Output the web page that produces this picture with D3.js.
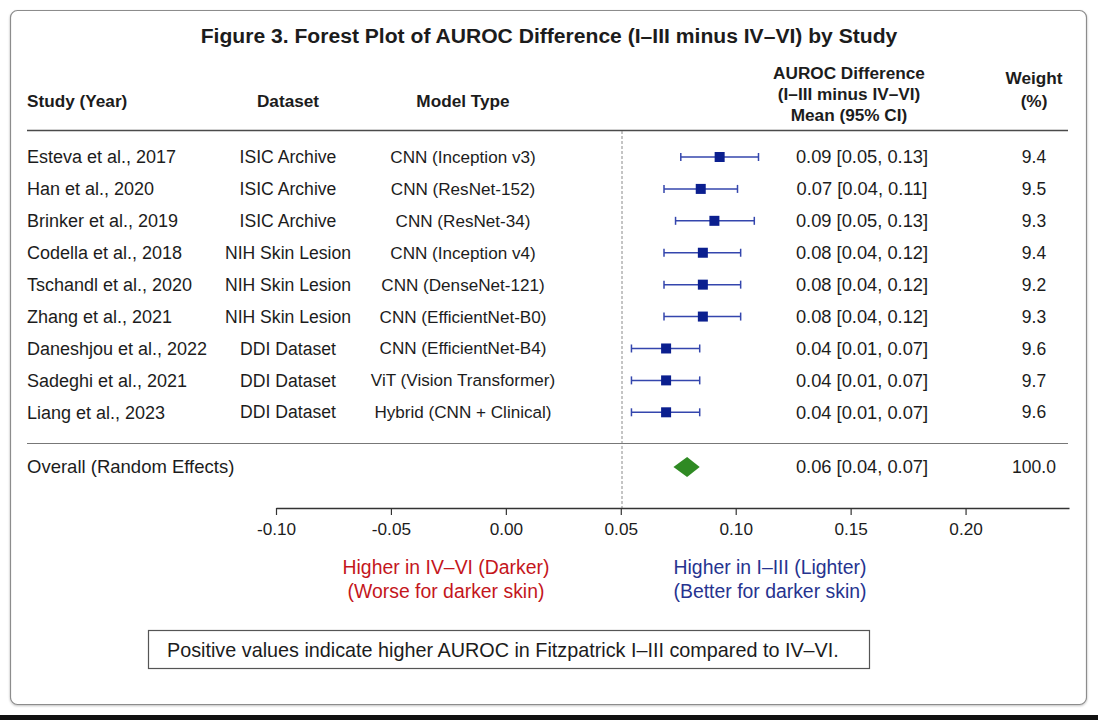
<!DOCTYPE html>
<html>
<head>
<meta charset="utf-8">
<script src="https://cdn.jsdelivr.net/npm/d3@7"></script>
<style>
  body { margin: 0; background: #ffffff; }
  svg { display: block; font-family: "Liberation Sans", Arial, sans-serif; }
</style>
</head>
<body>
<svg id="forest" width="1098" height="720"></svg>
<script>
// studies, top to bottom
const studies = ["Esteva et al., 2017", "Han et al., 2020", "Brinker et al., 2019",
    "Codella et al., 2018", "Tschandl et al., 2020", "Zhang et al., 2021",
    "Daneshjou et al., 2022", "Sadeghi et al., 2021", "Liang et al., 2023"];
const datasets = ["ISIC Archive", "ISIC Archive", "ISIC Archive",
    "NIH Skin Lesion", "NIH Skin Lesion", "NIH Skin Lesion",
    "DDI Dataset", "DDI Dataset", "DDI Dataset"];
const models = ["CNN (Inception v3)", "CNN (ResNet-152)", "CNN (ResNet-34)",
    "CNN (Inception v4)", "CNN (DenseNet-121)", "CNN (EfficientNet-B0)",
    "CNN (EfficientNet-B4)", "ViT (Vision Transformer)", "Hybrid (CNN + Clinical)"];

// plotted estimates
const means = [0.093, 0.075, 0.088, 0.077, 0.077, 0.077, 0.042, 0.042, 0.042];
const lower = [0.056, 0.040, 0.051, 0.040, 0.040, 0.040, 0.009, 0.009, 0.009];
const upper = [0.130, 0.110, 0.126, 0.113, 0.113, 0.113, 0.074, 0.074, 0.074];
// printed column
const ciText = ["0.09 [0.05, 0.13]", "0.07 [0.04, 0.11]", "0.09 [0.05, 0.13]",
    "0.08 [0.04, 0.12]", "0.08 [0.04, 0.12]", "0.08 [0.04, 0.12]",
    "0.04 [0.01, 0.07]", "0.04 [0.01, 0.07]", "0.04 [0.01, 0.07]"];
const weights = [9.4, 9.5, 9.3, 9.4, 9.2, 9.3, 9.6, 9.7, 9.6];

// pooled estimate
const overall = {mean: 0.062, lower: 0.049, upper: 0.074, text: "0.06 [0.04, 0.07]", weight: 100.0};

// axis as printed under the plot
const axisTicks = [-0.10, -0.05, 0.00, 0.05, 0.10, 0.15, 0.20];

const svg = d3.select("svg#forest");
const width = +svg.attr("width");
const height = +svg.attr("height");

const textColor = "#1c1c1c";
const markColor = "#0b1f8f";
const whiskerColor = "#3446ad";

// outer card
const defs = svg.append("defs");
const shadow = defs.append("filter").attr("id", "shadow")
    .attr("x", "-2%").attr("y", "-2%").attr("width", "104%").attr("height", "104%");
shadow.append("feDropShadow")
    .attr("dx", 0).attr("dy", 1).attr("stdDeviation", 1.2)
    .attr("flood-color", "#000").attr("flood-opacity", 0.25);

svg.append("rect")
    .attr("x", 10.5).attr("y", 10.5)
    .attr("width", 1076).attr("height", 694)
    .attr("rx", 7)
    .attr("fill", "#fff")
    .attr("stroke", "#8c8c8c")
    .attr("stroke-width", 1.2)
    .attr("filter", "url(#shadow)");

svg.append("rect")
    .attr("x", 0).attr("y", 715)
    .attr("width", width).attr("height", 5)
    .attr("fill", "#111");

// title
svg.append("text")
    .attr("x", 549).attr("y", 36)
    .attr("dy", "0.35em")
    .attr("text-anchor", "middle")
    .attr("font-size", 21.1)
    .attr("font-weight", "bold")
    .attr("fill", textColor)
    .text("Figure 3. Forest Plot of AUROC Difference (I\u2013III minus IV\u2013VI) by Study");

// column positions
const colStudy = 27, colDataset = 288, colModel = 463, colCI = 862, colWeight = 1034;
const left = 27, right = 1068;

// header
const header = svg.append("g")
    .attr("font-size", 17.2)
    .attr("font-weight", "bold")
    .attr("fill", textColor);

header.append("text").attr("x", colStudy).attr("y", 101).attr("dy", "0.35em")
    .text("Study (Year)");
header.append("text").attr("x", colDataset).attr("y", 101).attr("dy", "0.35em")
    .attr("text-anchor", "middle").text("Dataset");
header.append("text").attr("x", colModel).attr("y", 101).attr("dy", "0.35em")
    .attr("text-anchor", "middle").text("Model Type");

["AUROC Difference", "(I\u2013III minus IV\u2013VI)", "Mean (95% CI)"].forEach((t, i) => {
    header.append("text").attr("x", 849).attr("y", 73 + i * 21).attr("dy", "0.35em")
        .attr("text-anchor", "middle").text(t);
});
["Weight", "(%)"].forEach((t, i) => {
    header.append("text").attr("x", 1034).attr("y", 78 + i * 23).attr("dy", "0.35em")
        .attr("text-anchor", "middle").text(t);
});

svg.append("line")
    .attr("x1", left).attr("x2", right)
    .attr("y1", 130.5).attr("y2", 130.5)
    .attr("stroke", "#4a4a4a").attr("stroke-width", 1.6);

// scales
const y = d3.scalePoint()
    .domain(studies)
    .range([157, 412.3]);

// effect positions
const x = d3.scaleLinear()
    .domain([0, 0.1])
    .range([622, 727]);

// printed axis
const xAxisScale = d3.scaleLinear()
    .domain([-0.10, 0.245])
    .range([276, 1069]);

const axisY = 508;
const overallY = 467;

// reference line
svg.append("line")
    .attr("x1", x(0)).attr("x2", x(0))
    .attr("y1", 131).attr("y2", axisY)
    .attr("stroke", "#8a8a8a")
    .attr("stroke-width", 1)
    .attr("stroke-dasharray", "3,2");

// separator above overall row
svg.append("line")
    .attr("x1", left).attr("x2", right)
    .attr("y1", 443.5).attr("y2", 443.5)
    .attr("stroke", "#777").attr("stroke-width", 1.2);

const rows = studies.map((s, i) => ({
    study: s, dataset: datasets[i], model: models[i],
    mean: means[i], lo: lower[i], hi: upper[i],
    ci: ciText[i], weight: weights[i]
}));

const rowG = svg.append("g")
    .selectAll("g")
    .data(rows)
    .enter().append("g")
    .attr("transform", d => `translate(0,${y(d.study)})`);

rowG.append("text").attr("x", colStudy).attr("dy", "0.35em")
    .attr("font-size", 18).attr("fill", textColor)
    .text(d => d.study);
rowG.append("text").attr("x", colDataset).attr("dy", "0.35em")
    .attr("text-anchor", "middle").attr("font-size", 17.6).attr("fill", textColor)
    .text(d => d.dataset);
rowG.append("text").attr("x", colModel).attr("dy", "0.35em")
    .attr("text-anchor", "middle").attr("font-size", 17.1).attr("fill", textColor)
    .text(d => d.model);
rowG.append("text").attr("x", colCI).attr("dy", "0.35em")
    .attr("text-anchor", "middle").attr("font-size", 18.3).attr("fill", textColor)
    .text(d => d.ci);
rowG.append("text").attr("x", colWeight).attr("dy", "0.35em")
    .attr("text-anchor", "middle").attr("font-size", 17.5).attr("fill", textColor)
    .text(d => d3.format(".1f")(d.weight));

// whiskers
rowG.append("line")
    .attr("x1", d => x(d.lo)).attr("x2", d => x(d.hi))
    .attr("stroke", whiskerColor).attr("stroke-width", 1.5);
rowG.append("line")
    .attr("x1", d => x(d.lo)).attr("x2", d => x(d.lo))
    .attr("y1", -4).attr("y2", 4)
    .attr("stroke", whiskerColor).attr("stroke-width", 1.5);
rowG.append("line")
    .attr("x1", d => x(d.hi)).attr("x2", d => x(d.hi))
    .attr("y1", -4).attr("y2", 4)
    .attr("stroke", whiskerColor).attr("stroke-width", 1.5);

// point estimates
rowG.append("rect")
    .attr("x", d => x(d.mean) - 5).attr("y", -5)
    .attr("width", 10).attr("height", 10)
    .attr("fill", markColor);

// overall row
svg.append("text")
    .attr("x", colStudy).attr("y", overallY).attr("dy", "0.35em")
    .attr("font-size", 18.5).attr("fill", textColor)
    .text("Overall (Random Effects)");
svg.append("text")
    .attr("x", colCI).attr("y", overallY).attr("dy", "0.35em")
    .attr("text-anchor", "middle").attr("font-size", 18.3).attr("fill", textColor)
    .text(overall.text);
svg.append("text")
    .attr("x", colWeight).attr("y", overallY).attr("dy", "0.35em")
    .attr("text-anchor", "middle").attr("font-size", 17.5).attr("fill", textColor)
    .text(d3.format(".1f")(overall.weight));

svg.append("path")
    .attr("d", d3.line()([
        [x(overall.lower), overallY],
        [x(overall.mean), overallY - 10],
        [x(overall.upper), overallY],
        [x(overall.mean), overallY + 10]
    ]) + "Z")
    .attr("fill", "#2f8a23");

// axis
const fmt = d3.formatLocale({decimal: ".", thousands: ",", grouping: [3], currency: ["", ""], minus: "-"}).format(".2f");
const axisG = svg.append("g")
    .attr("transform", `translate(0,${axisY})`)
    .call(d3.axisBottom(xAxisScale)
        .tickValues(axisTicks)
        .tickFormat(fmt)
        .tickSizeInner(7)
        .tickSizeOuter(0));
axisG.select(".domain").attr("stroke", "#333").attr("stroke-width", 1.5);
axisG.selectAll(".tick line").attr("stroke", "#333").attr("stroke-width", 1.2);
axisG.selectAll(".tick text")
    .attr("font-size", 17.2)
    .attr("font-family", "\"Liberation Sans\", Arial, sans-serif")
    .attr("fill", textColor)
    .attr("y", 15);

// direction labels
const dirG = svg.append("g").attr("font-size", 19.4).attr("text-anchor", "middle");
["Higher in IV\u2013VI (Darker)", "(Worse for darker skin)"].forEach((t, i) => {
    dirG.append("text").attr("x", 446).attr("y", 567 + i * 24).attr("dy", "0.35em")
        .attr("fill", "#c4161c").text(t);
});
["Higher in I\u2013III (Lighter)", "(Better for darker skin)"].forEach((t, i) => {
    dirG.append("text").attr("x", 770).attr("y", 567 + i * 24).attr("dy", "0.35em")
        .attr("fill", "#26338f").text(t);
});

// note box
svg.append("rect")
    .attr("x", 148.5).attr("y", 630.5)
    .attr("width", 721).attr("height", 38)
    .attr("fill", "#fff")
    .attr("stroke", "#555")
    .attr("stroke-width", 1.2);
svg.append("text")
    .attr("x", 167).attr("y", 650).attr("dy", "0.35em")
    .attr("font-size", 19.8).attr("fill", textColor)
    .text("Positive values indicate higher AUROC in Fitzpatrick I\u2013III compared to IV\u2013VI.");
</script>
</body>
</html>
